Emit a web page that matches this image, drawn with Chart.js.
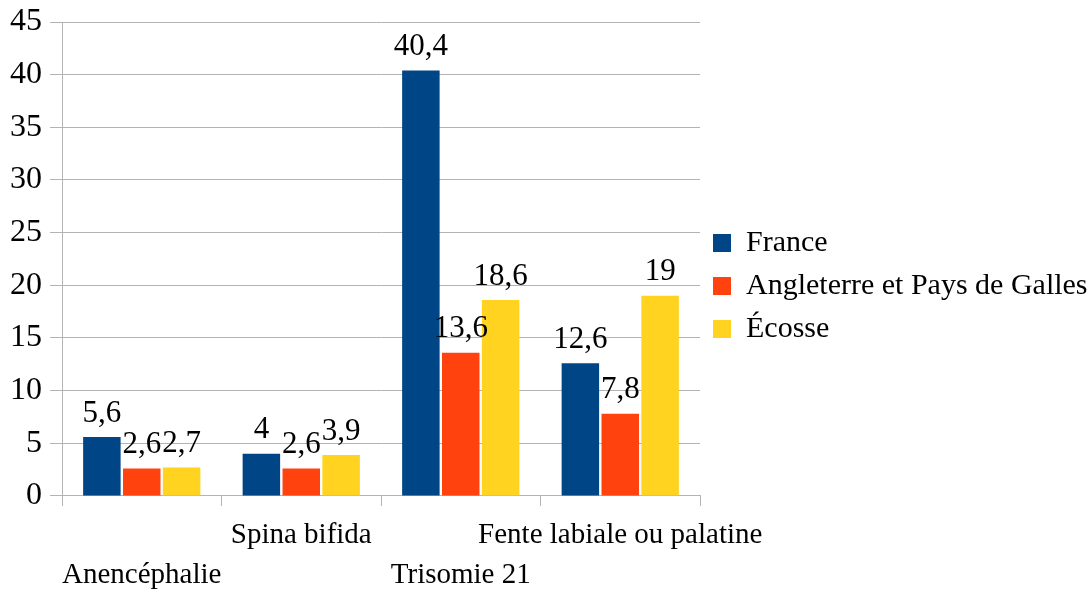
<!DOCTYPE html>
<html>
<head>
<meta charset="utf-8">
<script src="https://cdn.jsdelivr.net/npm/chart.js@4"></script>
<style>
    html, body { margin: 0; padding: 0; background: #fff; }
    #wrap { width: 1090px; height: 590px; }
</style>
</head>
<body>
<div id="wrap"><canvas id="chart" width="1090" height="590"></canvas></div>
<script>
// staggered category labels, like the original (every other one on the second row)
let categories = [
    ["", "Anencéphalie"],
    ["Spina bifida", ""],
    ["", "Trisomie 21"],
    ["Fente labiale ou palatine", ""]
];
let france = [5.6, 4, 40.4, 12.6];
let angleterre = [2.6, 2.6, 13.6, 7.8];
let ecosse = [2.7, 3.9, 18.6, 19];
let yTicks = [0, 5, 10, 15, 20, 25, 30, 35, 40, 45];

const FONT = "'Liberation Serif', 'DejaVu Serif', serif";
const GRID = "#b3b3b3";

// draws the value above each bar, with a decimal comma
let valueLabels = {
    id: "valueLabels",
    afterDatasetsDraw(chart) {
        let ctx = chart.ctx;
        ctx.save();
        ctx.font = "31px " + FONT;
        ctx.fillStyle = "#000";
        ctx.textAlign = "center";
        ctx.textBaseline = "bottom";
        chart.data.datasets.forEach((ds, i) => {
            let meta = chart.getDatasetMeta(i);
            meta.data.forEach((bar, j) => {
                let txt = String(ds.data[j]).replace(".", ",");
                ctx.fillText(txt, bar.x, bar.y - 8);
            });
        });
        ctx.restore();
    }
};

// the legend sits a little above the middle in the original
let liftLegend = {
    id: "liftLegend",
    afterLayout(chart) {
        chart.legend.top -= 20;
        chart.legend.bottom -= 20;
    }
};

new Chart("chart", {
    type: "bar",
    data: {
        labels: categories,
        datasets: [
            {
                label: "France",
                data: france,
                backgroundColor: "#004586"
            },
            {
                label: "Angleterre et Pays de Galles",
                data: angleterre,
                backgroundColor: "#ff420e"
            },
            {
                label: "Écosse",
                data: ecosse,
                backgroundColor: "#ffd320"
            }
        ]
    },
    options: {
        responsive: false,
        animation: false,
        datasets: {
            bar: {categoryPercentage: 0.75, barPercentage: 0.94}
        },
        layout: {padding: {top: 22, right: 0, bottom: 0, left: 2}},
        plugins: {
            legend: {
                position: "right",
                maxWidth: 390,
                labels: {
                    boxWidth: 18,
                    boxHeight: 18,
                    padding: 13,
                    color: "#000",
                    font: {family: FONT, size: 30}
                }
            },
            tooltip: {enabled: false}
        },
        scales: {
            x: {
                // the last label row may run to the very edge of the canvas
                afterFit: axis => { axis.height -= 14; },
                grid: {drawOnChartArea: false, color: GRID, tickLength: 10, offset: true},
                border: {color: GRID},
                ticks: {
                    color: "#000",
                    maxRotation: 0,
                    autoSkip: false,
                    padding: 9,
                    font: {family: FONT, size: 29, lineHeight: 1.38}
                }
            },
            y: {
                min: 0,
                max: 45,
                afterBuildTicks: axis => { axis.ticks = yTicks.map(v => ({value: v})); },
                afterFit: axis => { axis.paddingTop = 0; axis.paddingBottom = 0; },
                grid: {color: GRID, tickLength: 12},
                border: {color: GRID},
                ticks: {
                    color: "#000",
                    padding: 8,
                    font: {family: FONT, size: 32}
                }
            }
        }
    },
    plugins: [valueLabels, liftLegend]
});
</script>
</body>
</html>
